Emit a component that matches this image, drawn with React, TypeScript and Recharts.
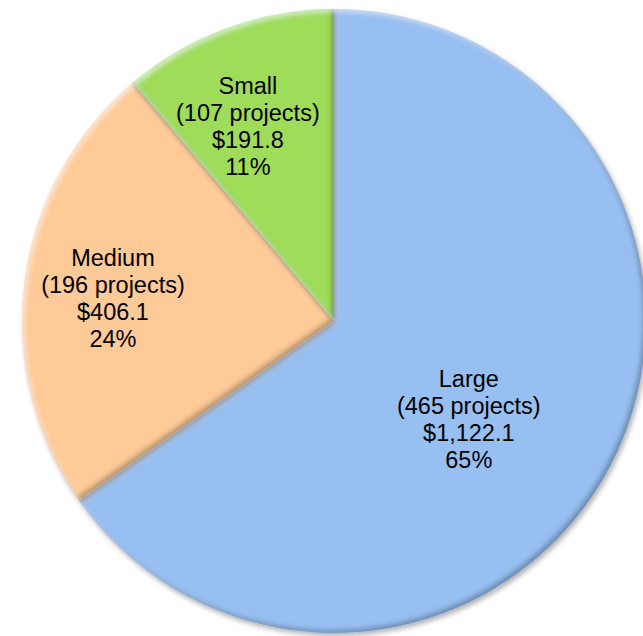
import React from 'react';
import { PieChart, Pie, Cell } from 'recharts';

// Project funding by size ($ millions)
const categories = ['Large', 'Medium', 'Small'];
const amounts = [1122.1, 406.1, 191.8];
const projectCounts = [465, 196, 107];

const sliceColors = ['#97bff1', '#fdca98', '#9edc5a'];
// label placement: fraction of radius and angle nudge (deg) from mid angle
const labelRadius = [0.535, 0.712, 0.682];
const labelAngleShift = [-8.7, 1.6, 3.8];

const RADIAN = Math.PI / 180;

const chartData = categories.map((name, i) => ({
  name,
  value: amounts[i],
  projects: projectCounts[i],
}));

const formatMoney = (v: number) =>
  '$' + v.toLocaleString('en-US', { minimumFractionDigits: 1, maximumFractionDigits: 1 });

const renderLabel = (props: any) => {
  const { cx, cy, midAngle, outerRadius, index, percent } = props;
  const angle = (midAngle + labelAngleShift[index]) * RADIAN;
  const r = outerRadius * labelRadius[index];
  const x = cx + r * Math.cos(-angle);
  const y = cy + r * Math.sin(-angle);
  const entry = chartData[index];
  const lines = [
    entry.name,
    `(${entry.projects} projects)`,
    formatMoney(entry.value),
    `${Math.round(percent * 100)}%`,
  ];
  const lineH = 27;
  const top = y - ((lines.length - 1) * lineH) / 2;
  return (
    <text
      x={x}
      y={top}
      textAnchor="middle"
      dominantBaseline="central"
      fill="#000"
      style={{ fontFamily: '"Liberation Sans", Arial, sans-serif', fontSize: 23.5 }}
    >
      {lines.map((t, i) => (
        <tspan key={i} x={x} y={top + i * lineH}>
          {t}
        </tspan>
      ))}
    </text>
  );
};

export default function App() {
  return (
    <div style={{ position: 'absolute', left: 0, top: 0, width: 643, height: 636, overflow: 'hidden', background: '#fff' }}>
      <PieChart width={643} height={636} margin={{ top: 0, right: 0, bottom: 0, left: 0 }}>
        <defs>
          <filter id="bevel" x="-10%" y="-10%" width="120%" height="120%">
            <feGaussianBlur in="SourceAlpha" stdDeviation="2.5" result="blur" />
            <feOffset in="blur" dx="-3" dy="-3" result="offA" />
            <feComposite in="SourceAlpha" in2="offA" operator="out" result="darkEdge" />
            <feFlood floodColor="#000" floodOpacity="0.5" result="darkColor" />
            <feComposite in="darkColor" in2="darkEdge" operator="in" result="darkFill" />
            <feOffset in="blur" dx="3" dy="3" result="offB" />
            <feComposite in="SourceAlpha" in2="offB" operator="out" result="lightEdge" />
            <feFlood floodColor="#fff" floodOpacity="0.45" result="lightColor" />
            <feComposite in="lightColor" in2="lightEdge" operator="in" result="lightFill" />
            <feOffset in="blur" dx="2" dy="3" result="dropOff" />
            <feFlood floodColor="#000" floodOpacity="0.3" result="dropColor" />
            <feComposite in="dropColor" in2="dropOff" operator="in" result="drop" />
            <feMerge>
              <feMergeNode in="drop" />
              <feMergeNode in="SourceGraphic" />
              <feMergeNode in="darkFill" />
              <feMergeNode in="lightFill" />
            </feMerge>
          </filter>
        </defs>
        <Pie
          data={chartData}
          dataKey="value"
          nameKey="name"
          cx={334}
          cy={321}
          outerRadius={312}
          startAngle={90}
          endAngle={-270}
          stroke="none"
          label={renderLabel}
          labelLine={false}
          isAnimationActive={false}
        >
          {chartData.map((d, i) => (
            <Cell key={d.name} fill={sliceColors[i]} filter="url(#bevel)" />
          ))}
        </Pie>
      </PieChart>
    </div>
  );
}
